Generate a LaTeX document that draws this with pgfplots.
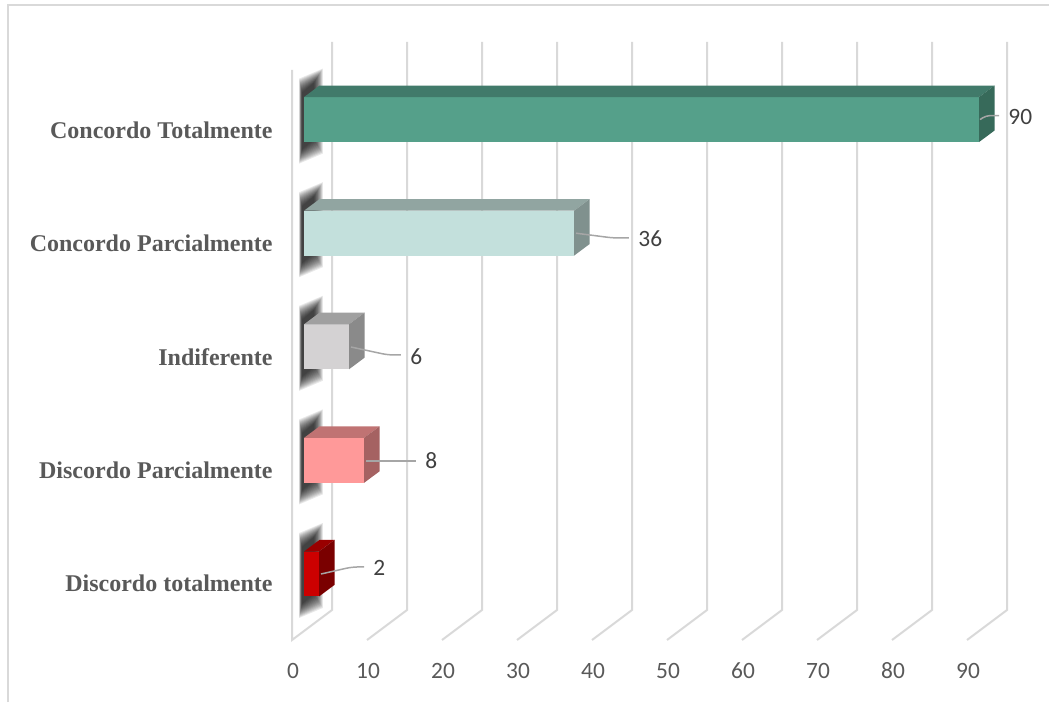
\documentclass[border=0pt]{standalone}
\usepackage{pgfplots}
\pgfplotsset{compat=1.18}
\usepackage{fontspec}
\setmainfont{Liberation Serif}
\newfontfamily\calibri{Carlito}

\definecolor{gridc}{HTML}{D9D9D9}
\definecolor{leadc}{HTML}{A6A6A6}
\definecolor{catc}{HTML}{595959}
\definecolor{tickc}{HTML}{595959}
\definecolor{lblc}{HTML}{404040}
% front / top / side shades of each bar
\definecolor{ctF}{HTML}{55A08A}\definecolor{ctT}{HTML}{417A6A}\definecolor{ctS}{HTML}{376A5A}
\definecolor{cpF}{HTML}{C3E0DC}\definecolor{cpT}{HTML}{91A5A1}\definecolor{cpS}{HTML}{80918E}
\definecolor{inF}{HTML}{D4D2D3}\definecolor{inT}{HTML}{A0A0A0}\definecolor{inS}{HTML}{8A8A8A}
\definecolor{dpF}{HTML}{FF9999}\definecolor{dpT}{HTML}{C07373}\definecolor{dpS}{HTML}{A56262}
\definecolor{dtF}{HTML}{CC0000}\definecolor{dtT}{HTML}{990000}\definecolor{dtS}{HTML}{7A0000}

% 3-D bar: #1 value, #2 category index, #3 front, #4 top, #5 side colour
\newcommand\threedbar[5]{%
  \pgfmathsetmacro\yb{#2-0.198}%
  \pgfmathsetmacro\yt{#2+0.198}%
  \pgfmathsetmacro\ybb{#2-0.198+0.102}%
  \pgfmathsetmacro\ytt{#2+0.198+0.102}%
  \pgfmathsetmacro\xe{#1+2.07}%
  \edef\doplot{%
    \noexpand\addplot[fill=#3,draw=none] coordinates {(0,\yb) (#1,\yb) (#1,\yt) (0,\yt)};%
    \noexpand\addplot[fill=#4,draw=none] coordinates {(0,\yt) (#1,\yt) (\xe,\ytt) (2.07,\ytt)};%
    \noexpand\addplot[fill=#5,draw=none] coordinates {(#1,\yb) (\xe,\ybb) (\xe,\ytt) (#1,\yt)};%
  }\doplot}

% one layer of the soft shadow cast on the side wall (#1 index, #2 spread in px)
\newcommand\shadowlayer[2]{%
  \pgfmathsetmacro\sxl{(302-#2/5-304)/7.5}%
  \pgfmathsetmacro\sxr{(314+#2/1.6-304)/7.5}%
  \pgfmathsetmacro\slt{#1+(27+#2)/113.6}%
  \pgfmathsetmacro\slb{#1-(30+#2)/113.6}%
  \pgfmathsetmacro\srt{#1+(37+#2)/113.6}%
  \pgfmathsetmacro\srb{#1-(20+#2)/113.6}%
  \edef\doplot{\noexpand\addplot[fill=black,fill opacity=0.085,draw=none]
    coordinates {(\sxl,\slb) (\sxr,\srb) (\sxr,\srt) (\sxl,\slt)};}\doplot}
\newcommand\wallshadow[1]{%
  \pgfplotsforeachungrouped \g in {0,1,...,14}{\shadowlayer{#1}{\g}}}

\begin{document}
\begin{tikzpicture}
% frame and 3-D gridlines (1 unit = 1 px, y downwards)
\begin{scope}[x=0.5pt,y=-0.5pt,shift={(0pt,351pt)}]
  \useasboundingbox (0,0) rectangle (1049,702);
  \draw[gridc,line width=0.75pt] (8,702) -- (8,5) -- (1049,5);
  \draw[gridc,line width=1pt] (292,70) -- (292,640) -- (332,610) -- (332,42);
  \foreach \k in {1,...,9}
    \draw[gridc,line width=1pt] ({292+75*\k},640) -- ({332+75*\k},610) -- ({332+75*\k},42);
\end{scope}

\begin{axis}[
  at={(0pt,0pt)}, anchor=south west,
  scale only axis, width=524.5pt, height=351pt,
  xmin=-40.5333, xmax=99.3333, ymin=-1.12676, ymax=5.05282,
  hide axis, clip=false]
  \wallshadow{4}\wallshadow{3}\wallshadow{2}\wallshadow{1}\wallshadow{0}

  \threedbar{90}{4}{ctF}{ctT}{ctS}
  \threedbar{36}{3}{cpF}{cpT}{cpS}
  \threedbar{6}{2}{inF}{inT}{inS}
  \threedbar{8}{1}{dpF}{dpT}{dpS}
  \threedbar{2}{0}{dtF}{dtT}{dtS}

  % leader lines and value labels
  \draw[leadc,line width=0.75pt,rounded corners=2pt]
    (axis cs:90.13,4.0) -- (axis cs:90.93,4.035) -- (axis cs:92.67,4.035);
  \draw[leadc,line width=0.75pt,rounded corners=3pt]
    (axis cs:36.27,3.0) -- (axis cs:41.2,2.958) -- (axis cs:43.33,2.958);
  \draw[leadc,line width=0.75pt,rounded corners=3pt]
    (axis cs:6.27,1.998) -- (axis cs:11.2,1.928) -- (axis cs:12.93,1.928);
  \draw[leadc,line width=0.75pt]
    (axis cs:8.27,0.995) -- (axis cs:14.93,0.995);
  \draw[leadc,line width=0.75pt,rounded corners=3pt]
    (axis cs:2.27,0.0) -- (axis cs:6.4,0.062) -- (axis cs:8.0,0.062);
  \begin{scope}[every node/.style={anchor=west,inner sep=0pt,text=lblc,
      font=\calibri\fontsize{11.7}{13}\selectfont}]
    \node at (axis cs:93.87,4.023) {90};
    \node at (axis cs:44.53,2.949) {36};
    \node at (axis cs:14.13,1.910) {6};
    \node at (axis cs:16.13,0.995) {8};
    \node at (axis cs:9.2,0.053) {2};
  \end{scope}
\end{axis}

% category names and value axis labels
\begin{scope}[x=0.5pt,y=-0.5pt,shift={(0pt,351pt)}]
  \begin{scope}[every node/.style={anchor=base east,inner sep=0pt,text=catc,
      font=\bfseries\fontsize{12}{14}\selectfont}]
    \node at (273,138.5) {Concordo Totalmente};
    \node at (273,251.5) {Concordo Parcialmente};
    \node at (273,365.5) {Indiferente};
    \node at (273,478.5) {Discordo Parcialmente};
    \node at (273,591.5) {Discordo totalmente};
  \end{scope}
  \foreach \k in {0,...,9}
    \node[anchor=base,inner sep=0pt,text=tickc,font=\calibri\fontsize{11.7}{13}\selectfont]
      at ({293+75*\k},678) {\pgfmathparse{int(10*\k)}\pgfmathresult};
\end{scope}
\end{tikzpicture}
\end{document}
